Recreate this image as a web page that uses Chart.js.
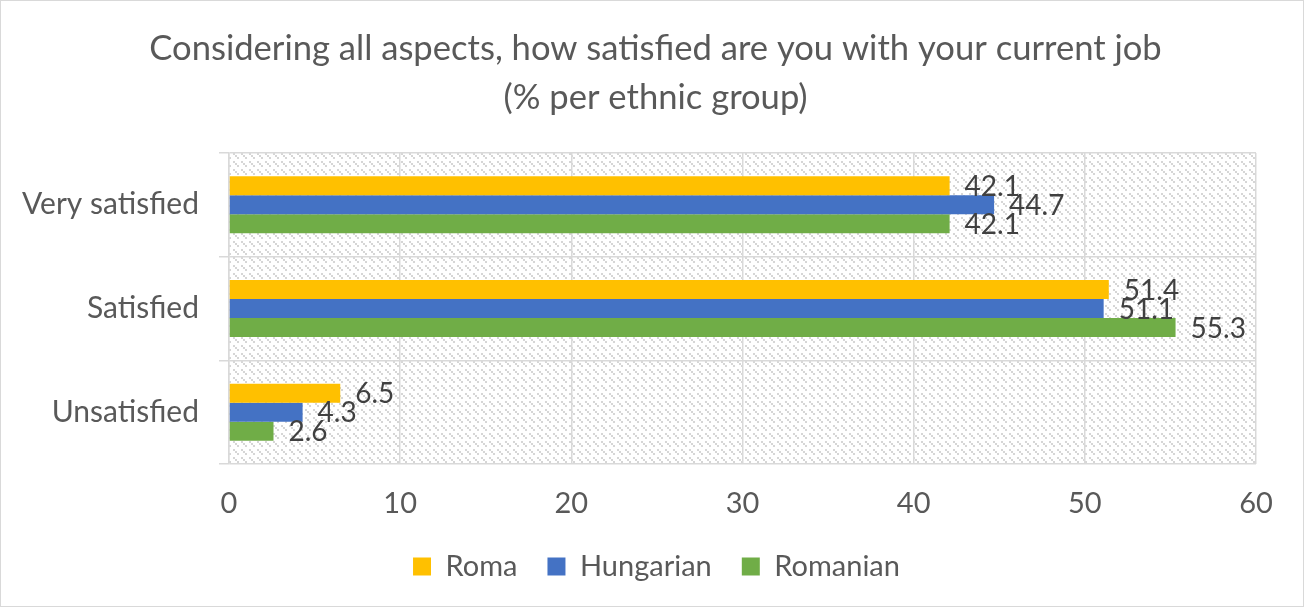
<!DOCTYPE html>
<html>
<head>
<meta charset="utf-8">
<script src="https://cdn.jsdelivr.net/npm/chart.js@4.4.1/dist/chart.umd.min.js"></script>
<style>
  html, body { margin: 0; padding: 0; background: #fff; }
  #wrap { position: relative; width: 1302px; height: 605px; border: 1px solid #d9d9d9; }
</style>
</head>
<body>
<div id="wrap"><canvas id="satisfactionChart"></canvas></div>
<script>
const categories = ['Very satisfied', 'Satisfied', 'Unsatisfied'];
const romaValues = [42.1, 51.4, 6.5];
const hungarianValues = [44.7, 51.1, 4.3];
const romanianValues = [42.1, 55.3, 2.6];
const xTicks = [0, 10, 20, 30, 40, 50, 60];

// light dashed downward-diagonal hatch for the plot area
function makeHatch(ctx) {
  const c = document.createElement('canvas');
  c.width = 8; c.height = 8;
  const p = c.getContext('2d');
  p.fillStyle = '#fff';
  p.fillRect(0, 0, 8, 8);
  p.fillStyle = '#d6d6d6';
  [[0, 0], [2, 2], [4, 4]].forEach(([x, y]) => p.fillRect(x, y, 2, 2));
  return ctx.createPattern(c, 'repeat');
}

const hatchPlugin = {
  id: 'hatch',
  beforeDraw(chart) {
    const { ctx, chartArea } = chart;
    ctx.save();
    ctx.fillStyle = makeHatch(ctx);
    ctx.fillRect(chartArea.left, chartArea.top, chartArea.right - chartArea.left, chartArea.bottom - chartArea.top);
    ctx.restore();
  }
};

// title and legend sit centred on the whole box, not on the padded area
const centreBoxes = {
  id: 'centreBoxes',
  afterLayout(chart) {
    chart.titleBlock.left += 27;
    chart.titleBlock.right += 27;
    chart.legend.left += 28;
    chart.legend.right += 28;
  }
};

const valueLabels = {
  id: 'valueLabels',
  afterDatasetsDraw(chart) {
    const ctx = chart.ctx;
    ctx.save();
    ctx.font = '28px Lato';
    ctx.fillStyle = '#404040';
    ctx.textAlign = 'left';
    ctx.textBaseline = 'middle';
    chart.data.datasets.forEach((ds, i) => {
      chart.getDatasetMeta(i).data.forEach((bar, j) => {
        ctx.fillText(ds.data[j].toFixed(1), bar.x + 15, bar.y + 1);
      });
    });
    ctx.restore();
  }
};

const ctx = document.getElementById('satisfactionChart').getContext('2d');
const chart = new Chart(ctx, {
  type: 'bar',
  data: {
    labels: categories,
    datasets: [
      { label: 'Roma', data: romaValues, backgroundColor: '#ffc000' },
      { label: 'Hungarian', data: hungarianValues, backgroundColor: '#4472c4' },
      { label: 'Romanian', data: romanianValues, backgroundColor: '#70ad47' }
    ]
  },
  options: {
    indexAxis: 'y',
    responsive: true,
    maintainAspectRatio: false,
    animation: false,
    categoryPercentage: 0.55,
    barPercentage: 1,
    layout: { padding: { left: 0, right: 47, top: 8, bottom: 15 } },
    scales: {
      x: {
        min: 0,
        max: 60,
        afterBuildTicks(s) { s.ticks = xTicks.map(v => ({ value: v })); },
        afterFit(s) { s.height = 58; },
        grid: { color: '#d9d9d9', lineWidth: 1.5, drawTicks: false },
        border: { display: false },
        ticks: { color: '#595959', font: { family: 'Lato', size: 29 }, padding: 22 }
      },
      y: {
        afterFit(s) { s.width = 228; },
        grid: { color: '#d9d9d9', lineWidth: 1.5, offset: true, tickLength: 10 },
        border: { color: '#d9d9d9', width: 1.5 },
        ticks: { color: '#595959', font: { family: 'Lato', size: 30 }, padding: 20 }
      }
    },
    plugins: {
      title: {
        display: true,
        text: ['Considering all aspects, how satisfied are you with your current job', '(% per ethnic group)'],
        color: '#595959',
        font: { family: 'Lato', size: 34.6, weight: 'normal', lineHeight: 1.43 },
        padding: { top: 15, bottom: 30 }
      },
      legend: {
        position: 'bottom',
        labels: {
          color: '#595959',
          font: { family: 'Lato', size: 29 },
          boxWidth: 18,
          boxHeight: 18,
          padding: 30
        }
      },
      tooltip: { enabled: false }
    }
  },
  plugins: [hatchPlugin, centreBoxes, valueLabels]
});
</script>
</body>
</html>
